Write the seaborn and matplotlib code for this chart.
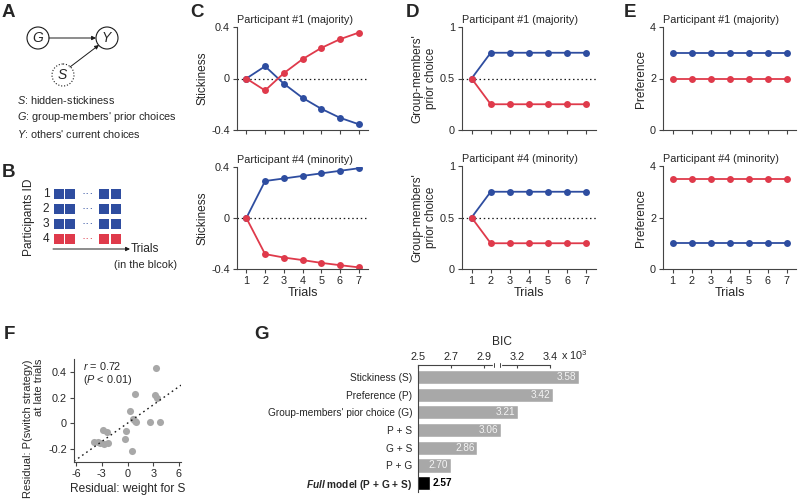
import numpy as np
import matplotlib
matplotlib.use("Agg")
import matplotlib.pyplot as plt
import matplotlib.transforms as mtransforms
from matplotlib.patches import Circle, Rectangle
import seaborn as sns

# ---- data ----
trials = np.arange(1, 8)

stick_maj_blue = [0, 0.095, -0.04, -0.15, -0.235, -0.305, -0.355]
stick_maj_red = [0, -0.093, 0.041, 0.15, 0.237, 0.305, 0.356]
stick_min_blue = [0, 0.29, 0.31, 0.33, 0.35, 0.37, 0.39]
stick_min_red = [0, -0.283, -0.31, -0.33, -0.352, -0.37, -0.387]

group_maj_blue = [0.5, 0.75, 0.75, 0.75, 0.75, 0.75, 0.75]
group_maj_red = [0.5, 0.25, 0.25, 0.25, 0.25, 0.25, 0.25]
group_min_blue = [0.5, 0.75, 0.75, 0.75, 0.75, 0.75, 0.75]
group_min_red = [0.5, 0.25, 0.25, 0.25, 0.25, 0.25, 0.25]

pref_maj_blue = [3, 3, 3, 3, 3, 3, 3]
pref_maj_red = [2, 2, 2, 2, 2, 2, 2]
pref_min_blue = [1, 1, 1, 1, 1, 1, 1]
pref_min_red = [3.5, 3.5, 3.5, 3.5, 3.5, 3.5, 3.5]

resid_w = [3.37, 0.85, 3.2, 3.45, 0.27, 0.66, 0.85, 1.05, 2.6, 3.76,
           -0.12, -0.31, 0.47, -2.83, -2.44, -3.9, -3.4, -3.2, -2.75, -2.25]
resid_p = [0.43, 0.23, 0.22, 0.20, 0.10, 0.036, 0.018, 0.01, 0.01, 0.008,
           -0.057, -0.124, -0.215, -0.054, -0.067, -0.142, -0.142, -0.15, -0.163, -0.153]

models = ["Stickiness (S)", "Preference (P)", "Group-members' pior choice (G)",
          "P + S", "G + S", "P + G", "Full model (P + G + S)"]
bic = [3.58, 3.42, 3.21, 3.06, 2.86, 2.70, 2.57]
bic_ticks = [2.5, 2.7, 2.9, 3.2, 3.4]

participant_choice = ["blue", "blue", "blue", "red"]

BLUE = "#2E4DA0"
RED = "#DF3A4B"
GRAY = "#A8A8A8"
SPINE = "#444444"
TICK_FS = 7.8
LABEL_FS = 8.6

sns.set_theme(style="ticks")
plt.rcParams["font.family"] = ["Liberation Sans", "DejaVu Sans"]
plt.rcParams["axes.unicode_minus"] = False
plt.rcParams["mathtext.fontset"] = "custom"
plt.rcParams["mathtext.rm"] = "Liberation Sans"
plt.rcParams["mathtext.it"] = "Liberation Sans:italic"
plt.rcParams["mathtext.bf"] = "Liberation Sans:bold"
plt.rcParams["mathtext.bfit"] = "Liberation Sans:italic:bold"

fig = plt.figure(figsize=(8, 5.01), dpi=100)


def rect(l, t, r, b):
    return [l / 800, 1 - b / 501, (r - l) / 800, (b - t) / 501]


def style_axes(ax):
    for s in ax.spines.values():
        s.set_color(SPINE)
        s.set_linewidth(0.8)
    ax.tick_params(direction="out", length=3, width=0.8, color=SPINE,
                   labelsize=TICK_FS, pad=2)


def trial_panel(ax, blue, red, ylim, yticks, ylabel, title, ref=None, bottom=False):
    if ref is not None:
        ax.axhline(ref, color="k", ls=(0, (1.2, 2.2)), lw=0.9, zorder=1)
    sns.lineplot(x=trials, y=blue, color=BLUE, marker="o", markersize=5,
                 markeredgewidth=0, lw=1.3, ax=ax)
    sns.lineplot(x=trials, y=red, color=RED, marker="o", markersize=5,
                 markeredgewidth=0, lw=1.3, ax=ax)
    ax.set_xlim(0.5, 7.5)
    ax.set_ylim(ylim)
    ax.set_yticks(yticks)
    ax.set_yticklabels([f"{v:g}" for v in yticks])
    ax.set_xticks(trials)
    if bottom:
        ax.set_xticklabels([str(t) for t in trials])
        ax.set_xlabel("Trials", fontsize=LABEL_FS + 0.4, labelpad=1)
    else:
        ax.set_xticklabels([])
    ax.set_ylabel(ylabel, fontsize=LABEL_FS, labelpad=2)
    ax.set_title(title, loc="left", fontsize=7.8, pad=3)
    sns.despine(ax=ax)
    style_axes(ax)


axc1 = fig.add_axes(rect(237, 27, 368, 130))
axc2 = fig.add_axes(rect(237, 167, 368, 269))
axd1 = fig.add_axes(rect(462, 27, 596, 130))
axd2 = fig.add_axes(rect(462, 166, 596, 269))
axe1 = fig.add_axes(rect(663, 27, 796, 130))
axe2 = fig.add_axes(rect(663, 166, 796, 269))

trial_panel(axc1, stick_maj_blue, stick_maj_red, (-0.4, 0.4), [-0.4, 0, 0.4],
            "Stickiness", "Participant #1 (majority)", ref=0)
trial_panel(axc2, stick_min_blue, stick_min_red, (-0.4, 0.4), [-0.4, 0, 0.4],
            "Stickiness", "Participant #4 (minority)", ref=0, bottom=True)
trial_panel(axd1, group_maj_blue, group_maj_red, (0, 1), [0, 0.5, 1],
            "Group-members'\nprior choice", "Participant #1 (majority)", ref=0.5)
trial_panel(axd2, group_min_blue, group_min_red, (0, 1), [0, 0.5, 1],
            "Group-members'\nprior choice", "Participant #4 (minority)", ref=0.5, bottom=True)
trial_panel(axe1, pref_maj_blue, pref_maj_red, (0, 4), [0, 2, 4],
            "Preference", "Participant #1 (majority)")
trial_panel(axe2, pref_min_blue, pref_min_red, (0, 4), [0, 2, 4],
            "Preference", "Participant #4 (minority)", bottom=True)

# ---- A & B schematic (pixel coordinates) ----
ax0 = fig.add_axes(rect(0, 0, 192, 300))
ax0.set_xlim(0, 192)
ax0.set_ylim(300, 0)
ax0.axis("off")

nodes = {"G": (38, 38, "-"), "Y": (107, 38, "-"), "S": (63, 75, ":")}
for name, (cx, cy, ls) in nodes.items():
    ax0.add_patch(Circle((cx, cy), 11, fill=False, ec="k", lw=0.8, ls=ls))
    ax0.text(cx, cy, f"${name}$", ha="center", va="center", fontsize=10)
arrow = dict(arrowstyle="-|>", color="k", lw=0.7, mutation_scale=6, shrinkA=0, shrinkB=0)
ax0.annotate("", xy=(96, 38), xytext=(49, 38), arrowprops=arrow)
ax0.annotate("", xy=(99, 45), xytext=(70, 67), arrowprops=arrow)
legend_lines = ["$S$: hidden-stickiness", "$G$: group-members' prior choices",
                "$Y$: others' current choices"]
for i, line in enumerate(legend_lines):
    ax0.text(17, 100 + 17 * i, line, ha="left", va="center", fontsize=7.8)

col_left = [54, 65, 99, 111]
for i, c in enumerate(participant_choice):
    cy = 194 + 15 * i
    colr = BLUE if c == "blue" else RED
    for x0 in col_left:
        ax0.add_patch(Rectangle((x0, cy - 5), 10, 10, color=colr, lw=0))
    ax0.text(88, cy, "···", ha="center", va="center", color=colr, fontsize=9)
    ax0.text(46, cy, str(i + 1), ha="center", va="center", fontsize=8.6)
ax0.text(29, 217, "Participants ID", rotation=90, ha="center", va="center", fontsize=8.6)
ax0.annotate("", xy=(130, 249), xytext=(53, 249), arrowprops=arrow)
ax0.text(131, 249, "Trials", ha="left", va="center", fontsize=8.6)
ax0.text(146, 265, "(in the blcok)", ha="center", va="center", fontsize=7.8)

# ---- F ----
axf = fig.add_axes(rect(74, 359, 181, 462))
axf.set_xlim(-6.25, 6.25)
axf.set_ylim(-0.3, 0.5)
sns.regplot(x=np.array(resid_w), y=np.array(resid_p), ci=None, truncate=False,
            scatter_kws=dict(s=26, color=GRAY, linewidths=0, alpha=1),
            line_kws=dict(color="k", ls=(0, (1.2, 2.4)), lw=1.0), ax=axf)
axf.set_xticks([-6, -3, 0, 3, 6])
axf.set_xticklabels(["-6", "-3", "0", "3", "6"])
axf.set_yticks([-0.2, 0, 0.2, 0.4])
axf.set_yticklabels(["-0.2", "0", "0.2", "0.4"])
axf.set_xlabel("Residual: weight for S", fontsize=LABEL_FS, labelpad=3)
axf.set_ylabel("Residual: P(switch strategy)\nat late trials", fontsize=8,
               loc="top", labelpad=3)
axf.text(0.085, 0.99, "$r$ = 0.72", transform=axf.transAxes, ha="left", va="top", fontsize=7.8)
axf.text(0.085, 0.86, "($P$ < 0.01)", transform=axf.transAxes, ha="left", va="top", fontsize=7.8)
sns.despine(ax=axf)
style_axes(axf)


# ---- G (broken BIC axis) ----
def fwd(x):
    x = np.asarray(x, float)
    return np.where(x <= 2.9, x, np.where(x < 3.2, 2.9 + (x - 2.9) * 2 / 3, x - 0.1))


def inv(y):
    y = np.asarray(y, float)
    return np.where(y <= 2.9, y, np.where(y < 3.1, 2.9 + (y - 2.9) * 1.5, y + 0.1))


axg = fig.add_axes(rect(418, 365, 586, 492))
axg.set_xscale("function", functions=(fwd, inv))
bar_colors = [GRAY] * (len(models) - 1) + ["black"]
sns.barplot(x=bic, y=models, hue=models, palette=bar_colors, orient="h",
            legend=False, width=0.8, saturation=1, ax=axg)
axg.set_xlim(2.5, 3.62)
axg.set_ylim(6.5, -0.68)
axg.xaxis.tick_top()
axg.xaxis.set_label_position("top")
axg.set_xticks(bic_ticks)
axg.set_xticklabels([f"{v:g}" for v in bic_ticks])
axg.set_xlabel("BIC", fontsize=LABEL_FS, labelpad=5)
axg.set_ylabel("")
axg.set_yticks(range(len(models)))
ylabels = models[:-1] + ["$\\mathbfit{Full}$ model (P + G + S)"]
axg.set_yticklabels(ylabels)
for s in ["right", "bottom"]:
    axg.spines[s].set_visible(False)
style_axes(axg)
axg.spines["top"].set_bounds(2.5, 3.4)
axg.tick_params(axis="x", direction="in", length=2, pad=2)
axg.tick_params(axis="y", length=0, pad=4, labelsize=7.3)
axg.get_yticklabels()[-1].set_fontweight("bold")
for i, v in enumerate(bic):
    if i < len(bic) - 1:
        axg.annotate(f"{v:.2f}", xy=(v, i), xytext=(-2, 0), textcoords="offset points",
                     ha="right", va="center", color="#F4F4F4", fontsize=7.2)
    else:
        axg.annotate(f"{v:.2f}", xy=(v, i), xytext=(2, 0), textcoords="offset points",
                     ha="left", va="center", color="black", fontsize=7.2, fontweight="bold")
btrans = mtransforms.blended_transform_factory(axg.transData, axg.transAxes)
axg.plot([2.99, 3.05], [1, 1], color="white", lw=2.5, transform=btrans, clip_on=False, zorder=5)
for xb in [2.99, 3.05]:
    axg.plot([xb, xb], [0.985, 1.015], color=SPINE, lw=0.7, transform=btrans,
             clip_on=False, zorder=6)
axg.annotate("x 10$^3$", xy=(3.47, 1), xycoords=btrans, xytext=(0, 2.5),
             textcoords="offset points", ha="left", va="bottom", fontsize=TICK_FS)

# ---- panel letters ----
letters = {"A": (2, 4), "B": (2, 164), "C": (190, 4), "D": (406, 4), "E": (624, 4),
           "F": (4, 326), "G": (254, 326)}
for lab, (px, py) in letters.items():
    fig.text(px / 800, 1 - py / 501, lab, ha="left", va="top", fontsize=13.5,
             fontweight="bold")

fig.savefig("out.png", dpi=100)
